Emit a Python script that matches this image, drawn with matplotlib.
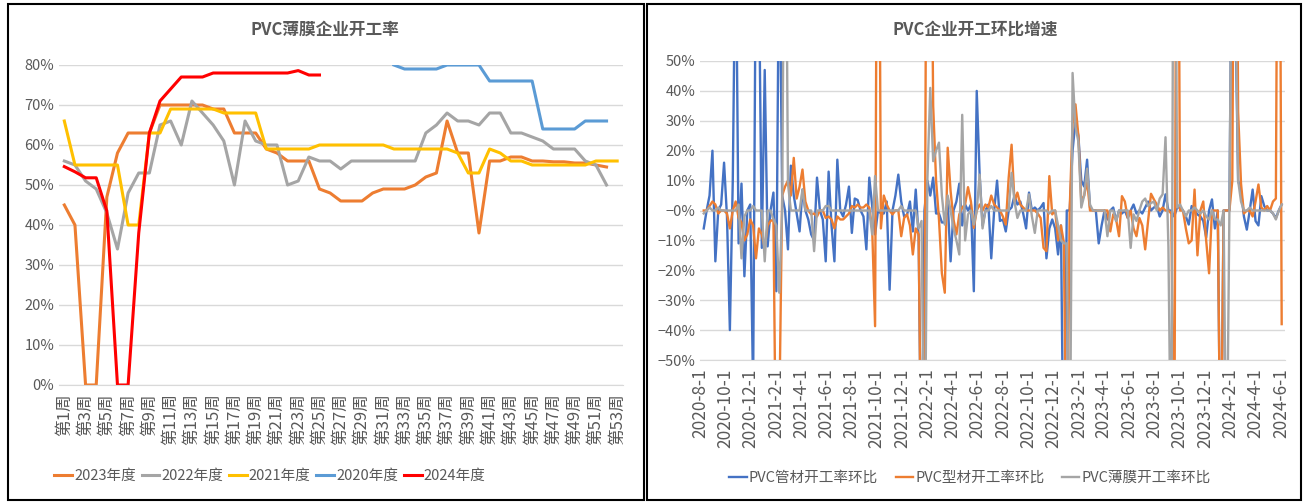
import numpy as np
import pandas as pd
import matplotlib
matplotlib.use("Agg")
import matplotlib.pyplot as plt
from matplotlib.patches import Rectangle
from matplotlib.ticker import PercentFormatter

plt.rcParams['font.family'] = ['Noto Sans CJK SC', 'DejaVu Sans']

# ---- left chart: PVC film operating rate by week (%) ----
weeks = list(range(1, 54))
rate_2023 = [45, 40, 0, 0, 47, 58, 63, 63, 63, 70, 70, 70, 70, 70, 69, 69, 63, 63, 63, 59,
             58, 56, 56, 56, 49, 48, 46, 46, 46, 48, 49, 49, 49, 50, 52, 53, 66, 58, 58, 38,
             56, 56, 57, 57, 56, 56, 55.8, 55.8, 55.5, 55.5, 55, 54.5, None]
rate_2022 = [56, 55, 51, 49, 43, 34, 48, 53, 53, 65, 66, 60, 71, 68, 65, 61, 50, 66, 61, 60,
             60, 50, 51, 57, 56, 56, 54, 56, 56, 56, 56, 56, 56, 56, 63, 65, 68, 66, 66, 65,
             68, 68, 63, 63, 62, 61, 59, 59, 59, 56, 55, 50, None]
rate_2021 = [66, 55, 55, 55, 55, 55, 40, 40, 63, 63, 69, 69, 69, 69, 69, 68, 68, 68, 68, 59,
             59, 59, 59, 59, 60, 60, 60, 60, 60, 60, 60, 59, 59, 59, 59, 59, 59, 58, 53, 53,
             59, 58, 56, 56, 55, 55, 55, 55, 55, 55, 56, 56, 56]
rate_2020 = [None] * 31 + [80, 79, 79, 79, 79, 80, 80, 80, 80, 76, 76, 76, 76, 76, 64, 64, 64, 64,
                           66, 66, 66, None]
rate_2024 = [54.6, 53.3, 51.8, 51.8, 43.5, 0, 0, 38, 63, 71, 74, 77, 77, 77, 78, 78, 78, 78, 78, 78,
             78, 78, 78.6, 77.5, 77.5] + [None] * 28
week_labels = ["第%d周" % w for w in weeks]

# ---- right chart: week-on-week change (%) ----
start_date = "2020-08-10"
pipe_chg = [
    -6, 0, 5, 20, -17, 0, 2, 16, -2, -40,
    10, 100, -11, 9, -22, 0, 2, -60, 100, 80,
    -12.5, 47, -12, 0, 6, -27, 100, 5, 0, -13,
    15, 5, -1, -7, 7, 0, -3, -8, -10, 11,
    0, -3, -17, 13, -5, -17, 17, 0, -2, 2,
    8, -7.5, 4, 3.5, 0, -2, -13, 11, 1.5, -8,
    0, -1, -1, 3, -26.5, 0, 5, 12, 3, -2,
    -1.5, 3, -7, 7, -9, -100, 0, 10, 5, 11,
    -1, -1, -4, -4, 3, -17, 0, 3, 9, -5,
    2, 0, 2, -27, 40, 12, -5, 0, 2, -16,
    0, 10, -3.5, -3, -7, 0, 1, 5, 2, 3,
    -1, -6, 6, 0, 1, 0, 1, 2.5, -16, -6,
    -3, -6, -14.7, -5, -100, 0, 0, 20, 30, 25,
    10, 8, 17, 1, 0, 0, -11, -5, 0, -3,
    0, 1, -3.5, 0, -1, 0, -2.5, 0, 2, -1,
    0, -1, 1, 3, 0, 1, 1.5, -2, 0, 5.4,
    0, 0, -2, 1, 1, 0, -2, -4.7, 1.5, 0,
    -1.3, -2, -3.5, -9, 0, 3.7, -6, 0, -100, 0,
    0, 0, 120, 70, 10, 6.5, -2, -6.4, 0, 7,
    -3.5, -5, 4.8, 1.5, 0, 0, -1, -2.5, 0, 2]
profile_chg = [
    0, 0, 1.5, 3, 2, -1, 0, 0, -1, -6,
    0, 3, -2.5, -4, -10, -8, -3, -5, -16, -6,
    -8, -12.5, -5, -3.5, -3, -100, -70, 5, 8, 10,
    5, 17.6, 4, 8, 13.7, 3, 0, -1.3, -1, -2,
    0, 0, -2.5, -2, -3, -6, -2, -3, -3, -2,
    -1, 1.5, 1, 2, 1, 1, 2, 1, -6, -38.7,
    200, -6, 5, 2, 0, -1.3, 0, 0, -8.6, -2.5,
    -1.3, -5, -14.7, -6, -8, -100, -60, 200, 150, 35,
    10, -3, -21, -27.5, 21, 6.5, -3, -8, -1.3, 1,
    2, 7.8, 3, -5.8, 0, 2, 0, 2, 1, 5,
    2, 1, 0, -2, -4.7, 11, 22, 3, 6, 2,
    1, 0, 0, 0, 0, -1, -2.5, -12.5, -13.6, 11.5,
    -1.3, 0, -10, -5, -10.8, -100, 0, 29, 35.5, 25,
    3, 5, 10, 0, 0, 0, 0, 0, 0, 0,
    -7, -1.3, -3, -8.6, 4.8, 3, -2.5, 0, -6, -8.6,
    -2.5, -5, -13, -3.5, 5.6, 3.7, 2, 0, 1, 0,
    0, -1, -100, 200, 0, 0, -6, -11, -10, 7,
    -15, 0, 3, -10, -21, 0, 0, 0, -100, 0,
    0, 0, 10, 200, 33, 9, -1, 0, 0, -2,
    3, 8.7, 1, 0, 1.5, 0, 3, 4, 200, -38]
film_chg = [
    -1, 0, 1, 0, 0, 1, 0, 0, 0, 0,
    0, 0, 2, -16, -2, 0, 0, 1.5, 0, 0,
    0, -17, 0, 0, -3, -5, -27.5, 0, 150, 9,
    0, 0, 0, 0, 7, 0, 0, 0, -13.6, 0,
    0, 0, 1.5, 1.5, 0, 0, 0, 0, 0, 0,
    0, 0, 0, 0, 0, 0, 0, 0, -8, 11.5,
    0, 0, 0, 0, 0, 0, 0, 0, 1.5, 0,
    0, 0, 0, 0, -6, -3.5, -100, 10, 41, 16.5,
    20, 22.7, 5, -4.7, 5, 0, -6, -10, -14.7, 32,
    -10, -1.3, 0, -4.7, 0, 12, -6, 0, 0, 1.5,
    0, 0, 0, 0, 0, 0, 12.6, 3, -2.5, 0,
    0, 0, 5.4, -2, -7.5, 0, 0, 0, 0, -1,
    0, 0, -5, -10, -11, -11, -100, 46, 28, 23,
    1, 5, 14, 2, 0, 0, 0, 0, 0, -8.6,
    0, 0, -3.5, 0, 0, 0, 0, -12.5, -1.3, -3.5,
    0, 3, 4, 1.5, 2.5, 3, 0, 4, 5.4, 24.5,
    -12.3, -100, 200, 1, 2, 0, -2, 0, 0, 1,
    0, -1, 0, -2, -3, 0, -3, -3, -5, 0,
    -100, 0, 120, 80, 10, 3, 0, 0, 1, 0,
    0, 0, 0, 0, 0, 0, -1, -3, 0, 2]

W, H = 1309, 503
fig = plt.figure(figsize=(W / 100, H / 100), dpi=100)
txt = '#595959'
grid = '#D9D9D9'

# ---------- left panel ----------
ax1 = fig.add_axes([59 / W, (H - 385) / H, 563.5 / W, 320 / H])
left_series = [("2023年度", rate_2023, '#ED7D31'),
               ("2022年度", rate_2022, '#A5A5A5'),
               ("2021年度", rate_2021, '#FFC000'),
               ("2020年度", rate_2020, '#5B9BD5'),
               ("2024年度", rate_2024, '#FF0000')]
for name, vals, col in left_series:
    y = np.array([np.nan if v is None else v / 100 for v in vals])
    ax1.plot(weeks, y, color=col, lw=2.2, label=name)
ax1.set_xlim(0.5, 53.5)
ax1.set_ylim(0, 0.8)
ax1.set_yticks(np.arange(0, 0.81, 0.1))
ax1.yaxis.set_major_formatter(PercentFormatter(1.0, decimals=0))
ax1.set_xticks(weeks[::2])
ax1.set_xticklabels(week_labels[::2], rotation=90, fontsize=12)
ax1.grid(axis='y', color=grid, lw=1)
ax1.set_axisbelow(True)
for s in ['top', 'right', 'left']:
    ax1.spines[s].set_visible(False)
ax1.spines['bottom'].set_color(grid)
ax1.tick_params(axis='both', length=0, colors=txt)
ax1.tick_params(axis='y', labelsize=10.5)
ax1.tick_params(axis='x', pad=6)
fig.text(325 / W, (H - 30) / H, "PVC薄膜企业开工率", color=txt, fontsize=12,
         fontweight='bold', ha='center', va='center')
ax1.legend(loc='center', bbox_to_anchor=(270 / W, (H - 476) / H), bbox_transform=fig.transFigure,
           ncol=5, frameon=False, fontsize=10.5, handlelength=1.2, handletextpad=0.15,
           columnspacing=0.4, labelcolor=txt)

# ---------- right panel ----------
dates = pd.date_range(start_date, periods=len(pipe_chg), freq='7D')
ax2 = fig.add_axes([700 / W, (H - 360) / H, 585 / W, 299 / H])
right_series = [("PVC管材开工率环比", pipe_chg, '#4472C4'),
                ("PVC型材开工率环比", profile_chg, '#ED7D31'),
                ("PVC薄膜开工率环比", film_chg, '#A5A5A5')]
for name, vals, col in right_series:
    ax2.plot(dates, np.array(vals) / 100, color=col, lw=1.7, label=name)
ax2.set_xlim(pd.Timestamp("2020-08-01"), pd.Timestamp("2024-06-11"))
ax2.set_ylim(-0.5, 0.5)
ax2.set_yticks(np.arange(-0.5, 0.51, 0.1))
ax2.yaxis.set_major_formatter(PercentFormatter(1.0, decimals=0))
ticks = pd.date_range("2020-08-01", "2024-06-01", freq='2MS')
ax2.set_xticks(ticks)
ax2.set_xticklabels(["%d-%d-%d" % (t.year, t.month, t.day) for t in ticks], rotation=90,
                    fontsize=12.5)
ax2.grid(axis='y', color=grid, lw=1)
ax2.set_axisbelow(True)
for s in ['top', 'right', 'left']:
    ax2.spines[s].set_visible(False)
ax2.spines['bottom'].set_color(grid)
ax2.tick_params(axis='both', length=0, colors=txt)
ax2.tick_params(axis='y', labelsize=10.5)
ax2.tick_params(axis='x', pad=6)
fig.text(975 / W, (H - 30) / H, "PVC企业开工环比增速", color=txt, fontsize=12,
         fontweight='bold', ha='center', va='center')
ax2.legend(loc='center', bbox_to_anchor=(970 / W, (H - 478) / H), bbox_transform=fig.transFigure,
           ncol=3, frameon=False, fontsize=10.5, handlelength=1.2, handletextpad=0.15,
           columnspacing=1.2, labelcolor=txt)

# panel frames
fig.add_artist(Rectangle((8 / W, 3 / H), 636 / W, 496 / H, transform=fig.transFigure,
                         fill=False, edgecolor='black', lw=1.5))
fig.add_artist(Rectangle((647 / W, 3 / H), 654 / W, 496 / H, transform=fig.transFigure,
                         fill=False, edgecolor='black', lw=1.5))

fig.savefig("out.png", dpi=100)
